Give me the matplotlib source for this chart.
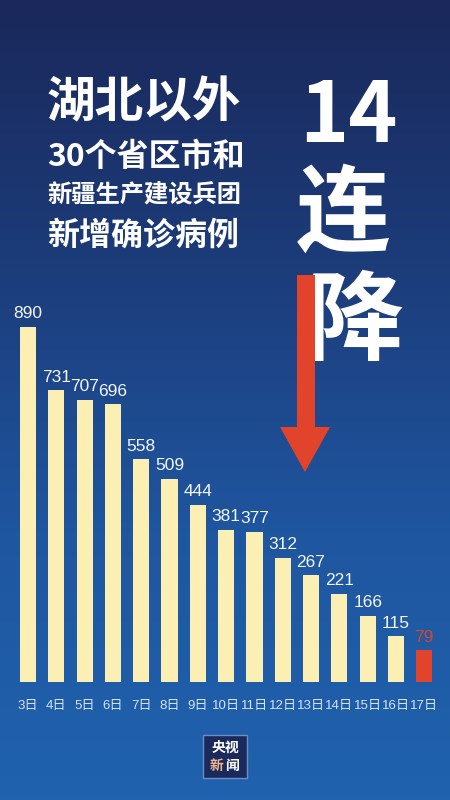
import numpy as np
from matplotlib import pyplot as plt
from matplotlib.patches import Polygon, Rectangle
from matplotlib.colors import LinearSegmentedColormap



days   = ['3日', '4日', '5日', '6日', '7日', '8日', '9日', '10日',
          '11日', '12日', '13日', '14日', '15日', '16日', '17日']
cases  = [890, 731, 707, 696, 558, 509, 444, 381, 377, 312, 267, 221, 166, 115, 79]

title_lines = ['湖北以外', '30个省区市和', '新疆生产建设兵团', '新增确诊病例']
big_lines   = ['14', '连', '降']

W, H  = 450, 800
cjk   = ['Noto Sans CJK SC', 'DejaVu Sans']
arial = ['Liberation Sans', 'Noto Sans CJK SC']

def px(x, y):
    # pixel position (from top-left) -> figure fraction
    return x / W, 1 - y / H



fig = plt.figure(figsize=(W/100, H/100), dpi=100)

# background gradient
bg = fig.add_axes([0, 0, 1, 1], zorder=-10)
cmap = LinearSegmentedColormap.from_list('bg', ['#1a285a', '#1c3c7a', '#1f56a0', '#2062ae'])
grad = np.linspace(0, 1, 256).reshape(-1, 1)
bg.imshow(grad, aspect='auto', cmap=cmap, extent=[0, 1, 0, 1], origin='upper')
bg.set_axis_off()

# titles on the left
sizes = [35, 23, 17.5, 23]
ypos  = [103, 157, 195, 236]
for txt, s, y in zip(title_lines, sizes, ypos):
    fig.text(*px(47, y), txt, ha='left', va='center', fontsize=s,
             fontweight='bold', color='white', family=cjk)

# big vertical text on the right
fig.text(*px(348, 117), big_lines[0], ha='center', va='center', fontsize=60,
         fontweight='bold', color='white', family=cjk)
fig.text(*px(343, 216), big_lines[1], ha='center', va='center', fontsize=68,
         fontweight='bold', color='white', family=cjk)
fig.text(*px(355, 323), big_lines[2], ha='center', va='center', fontsize=70,
         fontweight='bold', color='white', family=cjk)

# red arrow in front of 降
arrow = Polygon([px(297, 275), px(315, 275), px(315, 427), px(330, 427),
                 px(305, 472), px(280, 427), px(297, 427)],
                closed=True, transform=fig.transFigure, facecolor='#e2432b',
                edgecolor='none', zorder=5)
fig.patches.append(arrow)

# bar chart
ax = fig.add_axes([0, 118/H, 1, 399/H])
ax.patch.set_alpha(0)
x = np.arange(len(days))
colors = ['#fcefb4'] * (len(days) - 1) + ['#e2432b']
bars = ax.bar(x, cases, width=0.57, color=colors)
labels = ax.bar_label(bars, padding=4, fontsize=12.5, color='#f3f6fb', family=arial)
labels[-1].set_color('#d8452e')
ax.set_ylim(0, 1000)
ax.set_xlim(-0.99, 14.91)
ax.set_xticks(x, days, fontsize=9.5, color='#d5e3f5', family=arial)
ax.tick_params(axis='x', length=0, pad=13)
ax.set_yticks([])
for s in ax.spines.values():
    s.set_visible(False)

# logo
fig.patches.append(Rectangle(px(203, 778), 44/W, 43/H, transform=fig.transFigure,
                             facecolor='#1b2a5c', edgecolor='#6d8cc6', lw=1))
fig.text(*px(225, 748), '央视', ha='center', va='center', fontsize=10,
         fontweight='bold', color='white', family=cjk)
fig.text(*px(217, 766), '新', ha='center', va='center', fontsize=10,
         fontweight='bold', color='#f1b88c', family=cjk)
fig.text(*px(232, 766), '闻', ha='center', va='center', fontsize=10,
         fontweight='bold', color='white', family=cjk)

fig.savefig('out.png', dpi=100)
